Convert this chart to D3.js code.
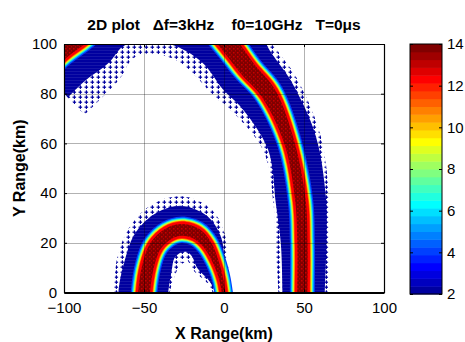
<!DOCTYPE html>
<html>
<head>
<meta charset="utf-8">
<script src="https://cdn.jsdelivr.net/npm/d3@7"></script>
<style>
  body { margin: 0; background: #fff; }
  text { font-family: "Liberation Sans", Arial, sans-serif; fill: #000; }
</style>
</head>
<body>
<div id="chart"></div>
<script>
// axes
const xTicks = [-100, -50, 0, 50, 100];
const yTicks = [0, 20, 40, 60, 80, 100];
const cbTicks = [2, 4, 6, 8, 10, 12, 14];
const cLim = [2, 14];
const nLevels = 32;

// outer arc, right end -> left end. centreline in km, widths in km from centreline
const bigX = [49, 49, 49, 47.8, 41, 28, 14.7, 3, -10, -30, -55, -75, -88.5, -103, -115];
const bigY = [-6, 0, 20, 37, 60, 80, 90, 100, 109, 116, 117, 112.5, 104.5, 97.5, 90];
const bigCore = [4.7, 4.7, 4.7, 4.8, 4.7, 6.2, 6.6, 7, 7, 7, 7.5, 8, 8, 8, 8];
const bigSolidOut = [14, 14, 15, 16, 17, 16, 18, 21, 19, 13, 12, 12, 12, 12, 12];
const bigSolidIn = [12.5, 12.5, 13.5, 15.5, 14, 19, 20, 20, 23, 25, 25, 24, 25, 25, 25];
const bigSparseOut = [16, 16, 17, 18, 20, 20, 22, 25, 22, 16, 16, 16, 16, 16, 16];
const bigSparseIn = [15, 15, 17, 17, 17, 25, 27, 29, 31, 33, 33, 34, 37, 40, 40];

// inner arc, right end -> left end
const smallX = [0.4, -1.6, -5.2, -10.4, -17.1, -26.4, -34.8, -42.7, -47.3, -49.8, -50.2];
const smallY = [-3, 5, 12.4, 19.2, 23.6, 25.2, 23.6, 18.8, 11, 1, -5];
const smallCore = [2.6, 2.8, 3.4, 4.3, 5, 5.2, 5.2, 5.2, 5.2, 5.2, 5.2];
const smallSolidOut = [3.5, 4, 6, 10, 13, 15, 15, 15, 15, 16, 16];
const smallSolidIn = [4, 7, 12, 12, 13, 14, 14, 14, 15, 15, 15];
const smallSparseOut = [4, 5, 8, 13, 18, 21, 21, 20, 20, 19, 19];
const smallSparseIn = [5, 9, 15, 16, 19, 21, 21, 19, 18, 16, 16];

// colour values across the band, from the blue edge in to the core
const bandValues = [4.2, 5.6, 7, 8.4, 9.8, 11.2, 12.4, 13.8];

const W = 465, H = 342;
const margin = { left: 64, right: 81, top: 44, bottom: 49.5 };

// matlab jet(m)
function jet(m) {
  const n = Math.ceil(m / 4);
  const u = [];
  for (let i = 1; i <= n; i++) u.push(i / n);
  for (let i = 1; i < n; i++) u.push(1);
  for (let i = n; i >= 1; i--) u.push(i / n);
  const off = Math.ceil(n / 2) - (m % 4 === 1 ? 1 : 0);
  let g = u.map((_, i) => off + i + 1);
  let r = g.map(v => v + n).filter(v => v <= m);
  let b = g.map(v => v - n).filter(v => v >= 1);
  g = g.filter(v => v <= m);
  const J = d3.range(m).map(() => [0, 0, 0]);
  r.forEach((k, i) => J[k - 1][0] = u[i]);
  g.forEach((k, i) => J[k - 1][1] = u[i]);
  b.forEach((k, i) => J[k - 1][2] = u[u.length - b.length + i]);
  return J.map(c => d3.rgb(c[0] * 255, c[1] * 255, c[2] * 255).formatHex());
}
const cmap = jet(nLevels);
const colour = d3.scaleQuantize().domain(cLim).range(cmap);

const svg = d3.select('#chart').append('svg')
  .attr('width', W).attr('height', H)
  .style('display', 'block');

const x = d3.scaleLinear().domain([-100, 100]).range([margin.left, 384]);
const y = d3.scaleLinear().domain([0, 100]).range([292.5, margin.top]);
const kx = x(1) - x(0); // px per km

const defs = svg.append('defs');
defs.append('clipPath').attr('id', 'plotClip')
  .append('rect')
  .attr('x', x(-100)).attr('y', y(100))
  .attr('width', x(100) - x(-100)).attr('height', y(0) - y(100));

// scatter-like textures
const fringe = cmap[0];
const sp = defs.append('pattern').attr('id', 'sparse')
  .attr('patternUnits', 'userSpaceOnUse').attr('width', 6).attr('height', 5);
sp.append('rect').attr('x', 0.5).attr('y', 1.6).attr('width', 3.6).attr('height', 1.2).attr('fill', fringe);
sp.append('rect').attr('x', 1.8).attr('y', 0.3).attr('width', 1.2).attr('height', 3.6).attr('fill', fringe);

const so = defs.append('pattern').attr('id', 'solid')
  .attr('patternUnits', 'userSpaceOnUse').attr('width', 4).attr('height', 3);
so.append('rect').attr('width', 4).attr('height', 3).attr('fill', fringe);
so.append('rect').attr('y', 2.4).attr('width', 4).attr('height', 0.6).attr('fill', '#3a3ab4').attr('opacity', 0.6);

const co = defs.append('pattern').attr('id', 'core')
  .attr('patternUnits', 'userSpaceOnUse').attr('width', 4).attr('height', 4);
co.append('rect').attr('width', 4).attr('height', 4).attr('fill', colour(13.99));
co.append('rect').attr('x', 1).attr('y', 0).attr('width', 1.5).attr('height', 1.5).attr('fill', '#c80000');
co.append('rect').attr('x', 3).attr('y', 2).attr('width', 1).attr('height', 1.5).attr('fill', '#b00000');

const line = d3.line().curve(d3.curveCatmullRom.alpha(0.5));

// closed ribbon around a centreline, widths in px
function ribbon(xs, ys, wOut, wIn) {
  const p = xs.map((v, i) => [x(v), y(ys[i])]);
  const nrm = p.map((q, i) => {
    const a = p[Math.max(i - 1, 0)], b = p[Math.min(i + 1, p.length - 1)];
    const dx = b[0] - a[0], dy = b[1] - a[1], l = Math.hypot(dx, dy);
    return [-dy / l, dx / l];
  });
  const outer = p.map((q, i) => [q[0] + nrm[i][0] * wOut[i], q[1] + nrm[i][1] * wOut[i]]);
  const inner = p.map((q, i) => [q[0] - nrm[i][0] * wIn[i], q[1] - nrm[i][1] * wIn[i]]).reverse();
  return line(outer) + 'L' + line(inner).slice(1) + 'Z';
}

const plot = svg.append('g').attr('clip-path', 'url(#plotClip)');

// px offsets of each colour step beyond the core edge
const bandOffsets = [5, 3.8, 2.8, 2.1, 1.4, 0.7, 0, -2.4];

function drawArc(name, xs, ys, core, solidOut, solidIn, sparseOut, sparseIn) {
  const g = plot.append('g').attr('class', name);
  const px = a => a.map(v => v * kx);
  g.append('path').attr('d', ribbon(xs, ys, px(sparseOut), px(sparseIn))).attr('fill', 'url(#sparse)');
  g.append('path').attr('d', ribbon(xs, ys, px(solidOut), px(solidIn))).attr('fill', 'url(#solid)');
  g.selectAll('path.band')
    .data(bandValues)
    .enter().append('path')
    .attr('class', 'band')
    .attr('d', (v, i) => {
      const w = core.map(c => Math.max(c * kx + bandOffsets[i], 0.5));
      return ribbon(xs, ys, w, w);
    })
    .attr('fill', (v, i) => i === bandValues.length - 1 ? 'url(#core)' : colour(v));
}

drawArc('outer-arc', bigX, bigY, bigCore, bigSolidOut, bigSolidIn, bigSparseOut, bigSparseIn);
drawArc('inner-arc', smallX, smallY, smallCore, smallSolidOut, smallSolidIn, smallSparseOut, smallSparseIn);

// grid on top of the data, like the original
const grid = svg.append('g').attr('class', 'grid')
  .attr('stroke', '#000').attr('stroke-opacity', 0.3).attr('stroke-width', 1);
grid.selectAll('line.gx').data(xTicks.slice(1, -1)).enter().append('line')
  .attr('x1', d => Math.round(x(d)) + 0.5).attr('x2', d => Math.round(x(d)) + 0.5)
  .attr('y1', y(100)).attr('y2', y(0));
grid.selectAll('line.gy').data(yTicks.slice(1, -1)).enter().append('line')
  .attr('y1', d => Math.round(y(d)) + 0.5).attr('y2', d => Math.round(y(d)) + 0.5)
  .attr('x1', x(-100)).attr('x2', x(100));

// axes, ticks inside on all four sides
const tickLen = 3;
const axes = svg.append('g').attr('class', 'axes');
const bottomAxis = axes.append('g').attr('transform', `translate(0,${y(0)})`)
  .call(d3.axisBottom(x).tickValues(xTicks).tickSizeInner(-tickLen).tickSizeOuter(0).tickPadding(10));
axes.append('g').attr('transform', `translate(${x(-100)},0)`)
  .call(d3.axisLeft(y).tickValues(yTicks).tickSizeInner(-tickLen).tickSizeOuter(0).tickPadding(7));
axes.append('g').attr('transform', `translate(0,${y(100)})`)
  .call(d3.axisTop(x).tickValues(xTicks).tickSizeInner(-tickLen).tickSizeOuter(0).tickFormat(''));
axes.append('g').attr('transform', `translate(${x(100)},0)`)
  .call(d3.axisRight(y).tickValues(yTicks).tickSizeInner(-tickLen).tickSizeOuter(0).tickFormat(''));
axes.selectAll('.domain').attr('stroke', '#000').attr('stroke-width', 1.2);
bottomAxis.select('.domain').attr('stroke-width', 2);
axes.selectAll('.tick line').attr('stroke', '#000');
axes.selectAll('.tick text').attr('font-size', 15).attr('fill', '#000')
  .style('font-family', '"Liberation Sans", Arial, sans-serif');

// colour bar
const cbX = 410, cbW = 32;
const cb = d3.scaleLinear().domain(cLim).range([294, 44]);
const step = (cLim[1] - cLim[0]) / nLevels;
const bar = svg.append('g').attr('class', 'colorbar');
bar.selectAll('rect').data(cmap).enter().append('rect')
  .attr('x', cbX).attr('width', cbW)
  .attr('y', (c, i) => cb(cLim[0] + (i + 1) * step))
  .attr('height', (c, i) => cb(cLim[0] + i * step) - cb(cLim[0] + (i + 1) * step) + 0.5)
  .attr('fill', c => c);
bar.append('rect').attr('x', cbX).attr('y', cb(14)).attr('width', cbW).attr('height', cb(2) - cb(14))
  .attr('fill', 'none').attr('stroke', '#000').attr('stroke-width', 1);
const cbAxis = bar.append('g').attr('transform', `translate(${cbX + cbW},0)`)
  .call(d3.axisRight(cb).tickValues(cbTicks).tickSizeInner(-tickLen).tickSizeOuter(0).tickPadding(5));
bar.append('g').attr('transform', `translate(${cbX},0)`)
  .call(d3.axisLeft(cb).tickValues(cbTicks).tickSizeInner(-tickLen).tickSizeOuter(0).tickFormat(''))
  .select('.domain').remove();
cbAxis.select('.domain').remove();
bar.selectAll('.tick line').attr('stroke', '#000');
bar.selectAll('.tick text').attr('font-size', 15).attr('fill', '#000')
  .style('font-family', '"Liberation Sans", Arial, sans-serif');

// titles
svg.append('text')
  .attr('x', 224).attr('y', 30)
  .attr('text-anchor', 'middle')
  .attr('font-size', 15.5).attr('font-weight', 'bold')
  .style('white-space', 'pre')
  .text('2D plot   Δf=3kHz    f0=10GHz   T=0μs');

svg.append('text')
  .attr('x', 224).attr('y', 339)
  .attr('text-anchor', 'middle')
  .attr('font-size', 16).attr('font-weight', 'bold')
  .text('X Range(km)');

svg.append('text')
  .attr('transform', `translate(25,${(y(0) + y(100)) / 2}) rotate(-90)`)
  .attr('text-anchor', 'middle')
  .attr('font-size', 16).attr('font-weight', 'bold')
  .text('Y Range(km)');
</script>
</body>
</html>
